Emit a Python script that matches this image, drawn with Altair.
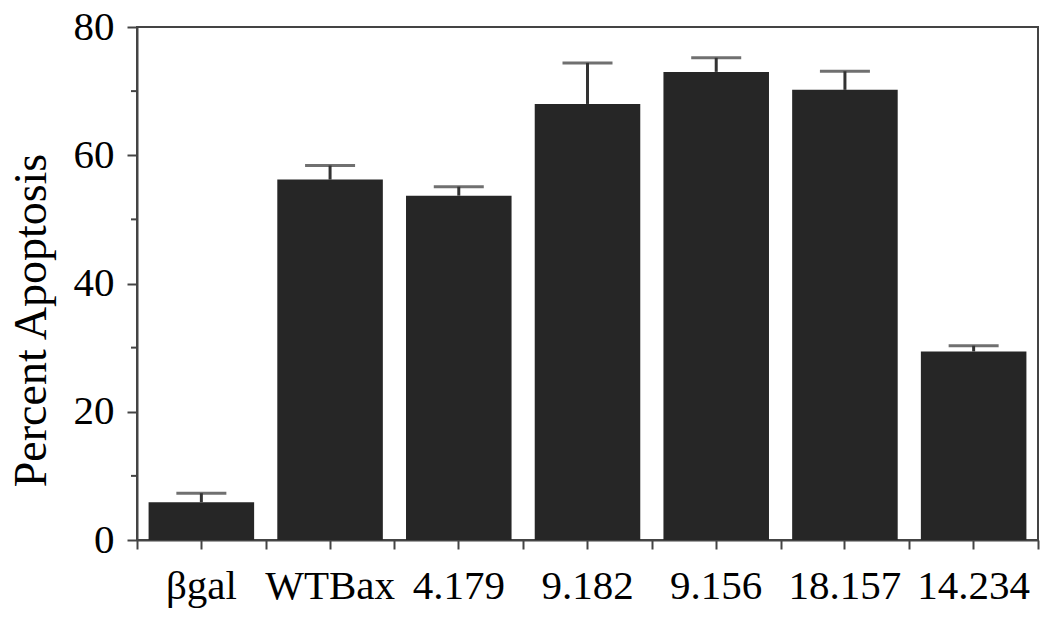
import altair as alt
import pandas as pd

categories = ["βgal", "WTBax", "4.179", "9.182", "9.156", "18.157", "14.234"]
percent = [5.9, 56.2, 53.7, 68.0, 73.0, 70.2, 29.4]
upper = [7.3, 58.4, 55.1, 74.4, 75.2, 73.1, 30.3]
minor_ticks = [10, 30, 50, 70]

df = pd.DataFrame({"cat": categories, "val": percent, "up": upper})
dm = pd.DataFrame({"m": minor_ticks})

FONT = "Liberation Serif"
W, H = 901, 513
AX = "#444"
YT = "Percent Apoptosis"

xscale = alt.Scale(paddingInner=0, paddingOuter=0)
yscale = alt.Scale(domain=[0, 80], nice=False)

x_main = alt.X("cat:N", sort=categories, scale=xscale, title=None,
               axis=alt.Axis(labelAngle=0, labelFont=FONT, labelFontSize=41,
                             labelColor="black", labelPadding=17, tickSize=9,
                             tickWidth=2, tickColor=AX, domainWidth=2,
                             domainColor=AX, orient="bottom"))
y_main = alt.Y("val:Q", scale=yscale, title=YT,
               axis=alt.Axis(values=[0, 20, 40, 60, 80], labelFont=FONT,
                             labelFontSize=41, labelColor="black", labelPadding=13,
                             tickSize=10, tickWidth=2, tickColor=AX,
                             domainWidth=2, domainColor=AX, grid=False,
                             titleFont=FONT, titleFontSize=46, titleFontWeight="normal",
                             titleColor="black", titlePadding=18, titleY=293))

bars = alt.Chart(df).mark_bar(color="#262626", width={"band": 0.82}).encode(x=x_main, y=y_main)

x_plain = alt.X("cat:N", sort=categories, scale=xscale, axis=None)

err = alt.Chart(df).mark_rule(color="#333", strokeWidth=3).encode(
    x=x_plain, y=alt.Y("val:Q", title=YT), y2="up:Q")
caps = alt.Chart(df).mark_tick(color="#333", size=50, thickness=3).encode(
    x=x_plain, y=alt.Y("up:Q", title=YT))

bticks = alt.Chart(df).mark_bar(opacity=0).encode(
    x=alt.X("cat:N", sort=categories, scale=xscale, title=None,
            axis=alt.Axis(labels=False, domain=False, tickBand="extent",
                          tickSize=9, tickWidth=2, tickColor=AX,
                          orient="bottom")),
    y=alt.Y("val:Q", title=YT))

minor = alt.Chart(dm).mark_rule(color=AX, strokeWidth=2).encode(
    x=alt.value(-6), x2=alt.value(0), y=alt.Y("m:Q", scale=yscale, title=YT))

chart = alt.layer(bars, err, caps, minor, bticks).resolve_axis(x="independent").properties(
    width=W, height=H,
    autosize=alt.AutoSizeParams(type="none"),
    padding={"left": 129, "top": 19, "right": 14, "bottom": 71},
    background="white",
).configure_view(stroke=AX, strokeWidth=2)

chart.save("out.html", embed_options={"renderer": "svg", "actions": False})
